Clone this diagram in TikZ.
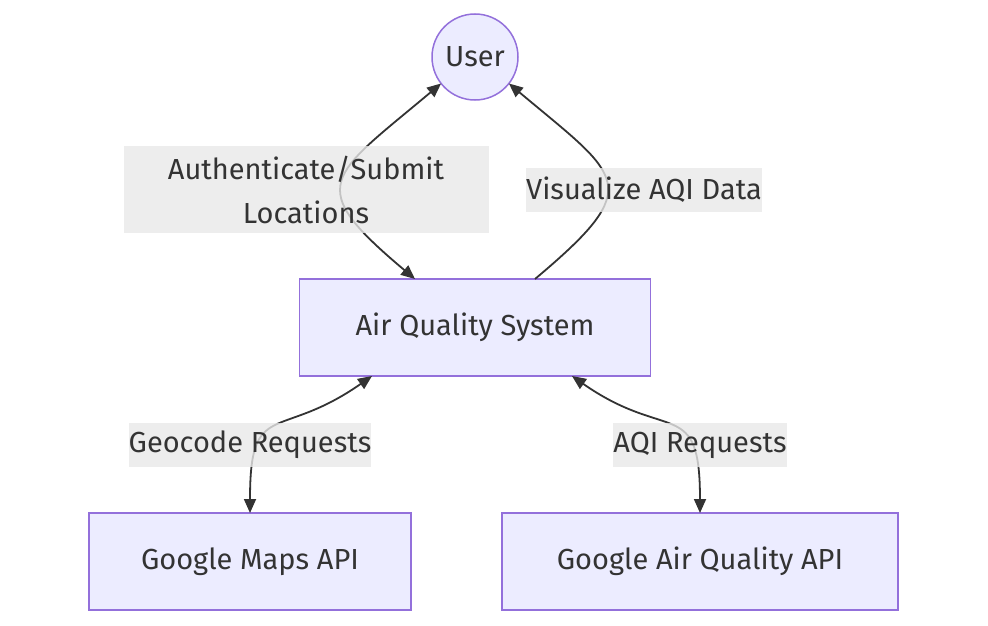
\documentclass[tikz,border=0pt]{standalone}
\usepackage{fontspec}
\setmainfont{Fira Sans}
\usepackage{xcolor}
\usetikzlibrary{positioning, arrows.meta}

\definecolor{nodefill}{HTML}{ECECFF}
\definecolor{nodeline}{HTML}{9370DB}
\definecolor{edgeline}{HTML}{333333}
\definecolor{labelfill}{HTML}{E8E8E8}

\begin{document}
\begin{tikzpicture}[x=1pt, y=1pt,
    >={Triangle[length=14pt, width=12pt]},
    every node/.style={font=\fontsize{29}{44}\selectfont, text=edgeline, outer sep=0pt},
    sysbox/.style={draw=nodeline, fill=nodefill, line width=1.5pt, rectangle, minimum height=97pt},
    usrcircle/.style={draw=nodeline, fill=nodefill, line width=1.5pt, circle, minimum size=86pt, inner sep=0pt},
    edgelabel/.style={fill=labelfill, fill opacity=0.8, text opacity=1, inner sep=0pt, minimum height=44pt},
    link/.style={draw=edgeline, line width=1.8pt}]
    \useasboundingbox (0,0) rectangle (988,-626);

    \node[usrcircle] (usr) at (475,-57) {User};
    \node[sysbox, minimum width=351pt, below=179pt of usr] (aqs) {Air Quality System};
    \node[sysbox, minimum width=322pt] (maps) at (250,-561.5) {Google Maps API};
    \node[sysbox, minimum width=396pt] (aqapi) at (700,-561.5) {Google Air Quality API};

    \draw[link, <->] (usr.218) to[out=220, in=140, looseness=1.9] ([xshift=-60pt]aqs.north);
    \draw[link, ->] ([xshift=60pt]aqs.north) to[out=40, in=-40, looseness=1.9] (usr.322);
    \draw[link, <->] ([xshift=-103pt]aqs.south) to[out=215, in=90, looseness=1.6] (maps.north);
    \draw[link, <->] ([xshift=97pt]aqs.south) to[out=-35, in=90, looseness=1.6] (aqapi.north);

    \node[edgelabel, text width=365pt, align=center, minimum height=87pt] (authlbl) at (306,-189.5) {Authenticate/Submit\\Locations};
    \node[edgelabel] (vislbl) at (644,-189.5) {Visualize AQI Data};
    \node[edgelabel] (geolbl) at (250,-445) {Geocode Requests};
    \node[edgelabel] (aqilbl) at (700,-445) {AQI Requests};
\end{tikzpicture}
\end{document}
